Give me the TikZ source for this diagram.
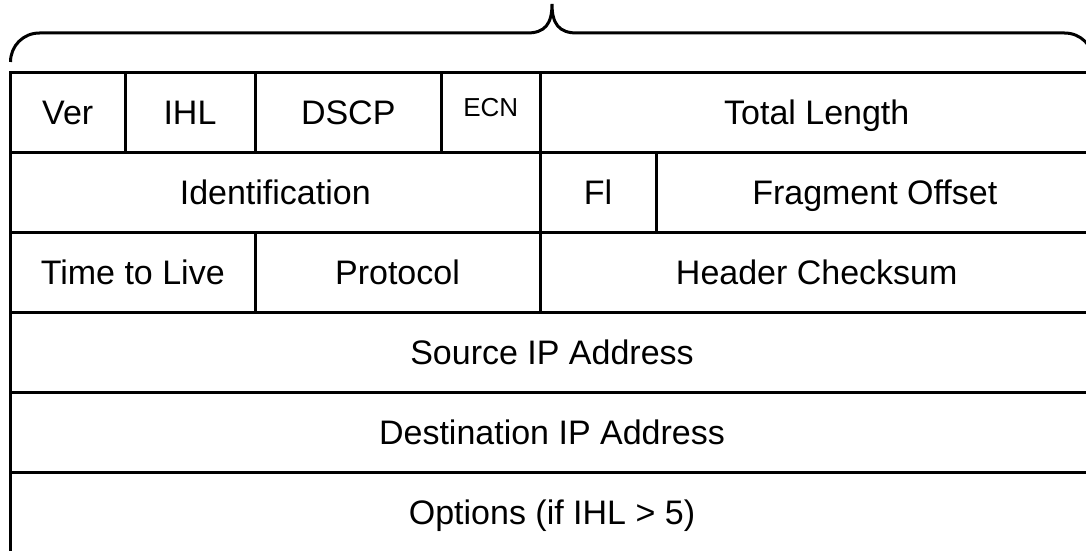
\documentclass[tikz,border=0pt]{standalone}
\usepackage{fontspec}
\setmainfont{Liberation Sans}
\usetikzlibrary{positioning}

\begin{document}
\begin{tikzpicture}[x=1pt, y=-1pt,
    field/.style={draw, rectangle, line width=3pt, inner sep=0pt, minimum height=80pt,
        text height=24.5pt, text depth=0pt, font=\fontsize{34}{40}\selectfont},
    smallfield/.style={field, text height=18.7pt, text depth=12pt, font=\fontsize{26}{31}\selectfont}]
    \useasboundingbox (0,0) rectangle (1086,551);
    % header fields: name / left / right / row / text
    \foreach \name/\xa/\xb/\row/\txt in {
        ver/10.5/125/1/Ver, ihl/125/255/1/IHL, dscp/255/441.5/1/DSCP,
        totlen/540/1093.5/1/Total Length,
        ident/10.5/540/2/Identification, flags/540/656/2/Fl,
        fragoff/656/1093.5/2/Fragment Offset,
        ttl/10.5/255/3/Time to Live, proto/255/540/3/Protocol,
        checksum/540/1093.5/3/Header Checksum,
        srcip/10.5/1093.5/4/Source IP Address,
        dstip/10.5/1093.5/5/Destination IP Address,
        options/10.5/1093.5/6/Options (if IHL > 5)}
    {
        \node[field, minimum width={(\xb-\xa)*1pt}] (\name)
            at ({(\xa+\xb)/2}, {72.7+80*(\row-0.5)}) {\txt};
    }
    \node[smallfield, minimum width=98.5pt] (ecn) at (490.75,112.7) {ECN};
    % brace over the header
    \draw[line width=3pt]
        (10.5,62) .. controls (10.5,46) and (23,33) .. (39.5,33) -- (527,33)
        .. controls (545,33) and (552,24) .. (552,4)
        .. controls (552,24) and (559,33) .. (577,33) -- (1064.5,33)
        .. controls (1081,33) and (1093.5,46) .. (1093.5,62);
\end{tikzpicture}
\end{document}
